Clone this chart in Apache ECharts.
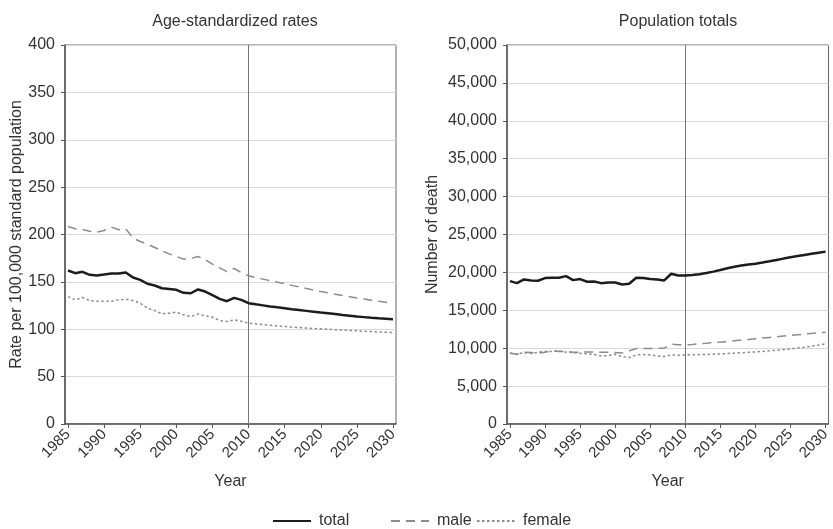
<!DOCTYPE html>
<html>
<head>
<meta charset="utf-8">
<script src="https://cdn.jsdelivr.net/npm/echarts@6/dist/echarts.min.js"></script>
<style>
html,body{margin:0;padding:0;background:#fff;}
#main{width:833px;height:529px;}
</style>
</head>
<body>
<div id="main"></div>
<script>
const years = [1985,1986,1987,1988,1989,1990,1991,1992,1993,1994,1995,1996,1997,1998,1999,2000,2001,2002,2003,2004,2005,2006,2007,2008,2009,2010,2011,2012,2013,2014,2015,2016,2017,2018,2019,2020,2021,2022,2023,2024,2025,2026,2027,2028,2029,2030];
const tickYears = [1985,1990,1995,2000,2005,2010,2015,2020,2025,2030];
const projectionStart = 2010;

// Age-standardized rates (per 100,000)
const rateTotal = [162,159.2,160.6,157.4,156.7,157.8,158.8,158.8,160,154.6,152.1,148,146.2,143.3,142.6,141.6,138.4,138,142,139.8,136,132,129.6,133.1,131,127.5,126.3,125.2,124.1,123.1,122.2,121.2,120.3,119.4,118.5,117.6,116.8,116,115.1,114.3,113.5,112.8,112.1,111.5,111,110.5];
const rateMale = [208.5,206,205.3,203.5,202.5,204.2,207.8,205,206,196.1,192.6,189.8,186.3,182.8,179.6,176.8,174,174.7,176.8,173.3,168.7,164.8,160.9,164.1,159.9,156.4,154.6,152.9,151.2,149.6,148,146.3,144.6,143,141.4,139.8,138.4,137,135.7,134.4,133.1,131.9,130.7,129.6,128.5,127.5];
const rateFemale = [134.5,131,133.5,130.3,129.6,129.6,129.6,131,131.7,130.3,127.5,122.2,119.8,116.2,116.9,118,115.2,113.4,116.2,114.1,112.7,109.2,108.1,109.9,108.5,106.4,105.6,104.9,104.2,103.5,102.9,102.3,101.8,101.3,100.8,100.4,100,99.5,99.1,98.7,98.3,97.9,97.5,97.1,96.8,96.5];

// Population totals (number of deaths)
const popTotal = [18850,18584,19070,18938,18894,19248,19292,19292,19513,18982,19115,18761,18805,18584,18672,18672,18407,18496,19292,19248,19115,19070,18938,19823,19602,19602,19650,19760,19911,20100,20310,20540,20750,20900,21030,21150,21300,21460,21640,21820,21990,22150,22300,22450,22600,22740];
const popMale = [9336,9203,9470,9425,9336,9470,9646,9558,9558,9470,9470,9513,9513,9470,9470,9425,9380,9646,9955,9955,9955,10000,10000,10530,10440,10440,10500,10580,10650,10730,10800,10890,10980,11070,11150,11240,11330,11420,11510,11600,11680,11770,11860,11950,12040,12120];
const popFemale = [9380,9203,9425,9292,9470,9558,9558,9646,9470,9425,9336,9247,9160,8982,9026,9203,8894,8760,9115,9160,9115,8982,8894,9115,9070,9115,9130,9150,9180,9210,9250,9300,9350,9400,9460,9513,9580,9650,9730,9820,9910,10020,10140,10270,10420,10575];

const seriesNames = ['total','male','female'];

const FONT = 'Liberation Sans, Arial, sans-serif';
const TXT = '#333';
const pair = arr => years.map((y,i)=>[y, arr[i]]);

const styles = {
  total: {color:'#1c1c1c', width:2.5, type:'solid'},
  male: {color:'#8c8c8c', width:1.5, type:[9,6]},
  female: {color:'#8c8c8c', width:1.5, type:[2.5,2.5]}
};

function mkSeries(name, arr, idx, withMark){
  const s = styles[name];
  const o = {
    name, type:'line', xAxisIndex:idx, yAxisIndex:idx,
    data: pair(arr), showSymbol:false, symbol:'none',
    lineStyle:{color:s.color, width:s.width, type:s.type},
    itemStyle:{color:s.color},
    z: name==='total'?5:3,
    animation:false
  };
  if (withMark) {
    o.markLine = {
      silent:true, symbol:['none','none'], label:{show:false},
      lineStyle:{color:'#777', width:1, type:'solid'},
      data:[{xAxis: projectionStart}]
    };
  }
  return o;
}

function xAx(idx){
  return {
    type:'value', gridIndex:idx, min:1984.58, max:2030.42,
    name:'Year', nameLocation:'middle', nameGap:50,
    nameTextStyle:{fontSize:16, color:TXT, fontFamily:FONT},
    axisLine:{show:true, lineStyle:{color:'#555', width:1.5}},
    axisTick:{show:true, length:4, customValues:tickYears, lineStyle:{color:'#555'}},
    axisLabel:{rotate:45, fontSize:15, color:TXT, fontFamily:FONT, margin:8,
      customValues:tickYears, formatter: v => String(v)},
    splitLine:{show:false}
  };
}

const legendLefts = [267, 385, 471];
function mkLegend(name, i){
  return {
    data:[name], top:508, left:legendLefts[i],
    itemWidth:38, itemHeight:12,
    itemStyle:{opacity:0},
    textStyle:{fontSize:16, color:TXT, fontFamily:FONT, padding:[0,0,0,3]}
  };
}

const chart = echarts.init(document.getElementById('main'), null, {renderer:'canvas'});
chart.setOption({
  backgroundColor:'#fff',
  animation:false,
  textStyle:{fontFamily:FONT},
  title:[
    {text:'Age-standardized rates', left:230, top:9, textAlign:'center', textStyle:{fontSize:16, fontWeight:'normal', color:TXT, fontFamily:FONT}},
    {text:'Population totals', left:673, top:9, textAlign:'center', textStyle:{fontSize:16, fontWeight:'normal', color:TXT, fontFamily:FONT}}
  ],
  legend: seriesNames.map(mkLegend),
  grid:[
    {left:65, top:45, width:331, height:379, show:true, borderColor:'#666', borderWidth:1, backgroundColor:'#fff'},
    {left:507, top:45, width:331, height:379, show:true, borderColor:'#666', borderWidth:1, backgroundColor:'#fff'}
  ],
  xAxis:[xAx(0), xAx(1)],
  yAxis:[
    {type:'value', gridIndex:0, min:0, max:400, interval:50,
     name:'Rate per 100,000 standard population', nameLocation:'middle', nameGap:40,
     nameTextStyle:{fontSize:16, color:TXT, fontFamily:FONT},
     axisLine:{show:true, lineStyle:{color:'#555', width:1.5}},
     axisTick:{show:true, length:4, lineStyle:{color:'#555'}},
     axisLabel:{fontSize:16, color:TXT, fontFamily:FONT, margin:10},
     splitLine:{show:true, lineStyle:{color:'#d9d9d9', width:1}}},
    {type:'value', gridIndex:1, min:0, max:50000, interval:5000,
     name:'Number of death', nameLocation:'middle', nameGap:66,
     nameTextStyle:{fontSize:16, color:TXT, fontFamily:FONT},
     axisLine:{show:true, lineStyle:{color:'#555', width:1.5}},
     axisTick:{show:true, length:4, lineStyle:{color:'#555'}},
     axisLabel:{fontSize:16, color:TXT, fontFamily:FONT, margin:10,
       formatter: v => v.toLocaleString('en-US')},
     splitLine:{show:true, lineStyle:{color:'#d9d9d9', width:1}}}
  ],
  series:[
    mkSeries('total', rateTotal, 0, true),
    mkSeries('male', rateMale, 0, false),
    mkSeries('female', rateFemale, 0, false),
    mkSeries('total', popTotal, 1, true),
    mkSeries('male', popMale, 1, false),
    mkSeries('female', popFemale, 1, false)
  ]
});
</script>
</body>
</html>
